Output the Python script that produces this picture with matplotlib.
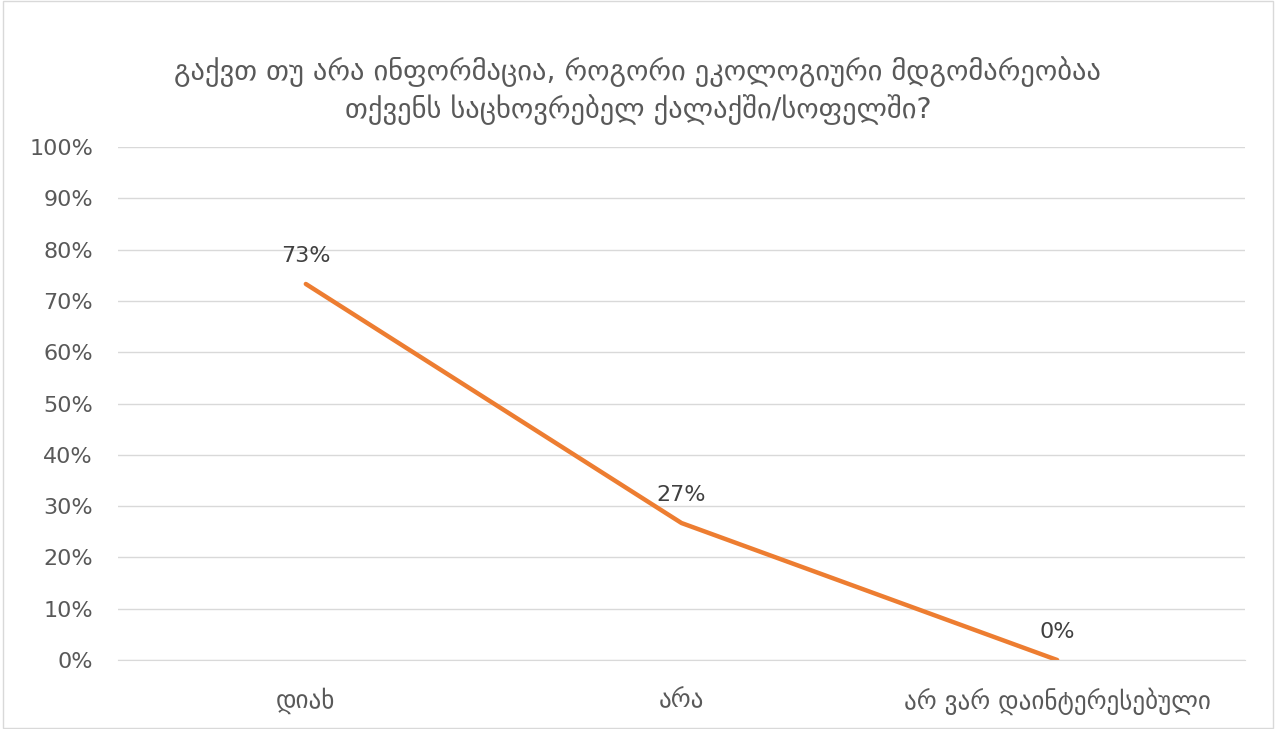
import matplotlib.pyplot as plt
from matplotlib.ticker import PercentFormatter
from matplotlib.patches import Rectangle

plt.rcParams['font.family'] = ['DejaVu Sans']

title = 'გაქვთ თუ არა ინფორმაცია, როგორი ეკოლოგიური მდგომარეობაა\nთქვენს საცხოვრებელ ქალაქში/სოფელში?'
categories = ['დიახ', 'არა', 'არ ვარ დაინტერესებული']
values = [0.733, 0.267, 0.0]
labels = ['73%', '27%', '0%']

fig = plt.figure(figsize=(12.76, 7.29), dpi=100)
ax = fig.add_axes([118 / 1276, 1 - 660 / 729, (1245 - 118) / 1276, (660 - 147) / 729])

x = list(range(len(categories)))
ax.plot(x, values, color='#ED7D31', linewidth=3.2, solid_capstyle='round')
for xi, v, lab in zip(x, values, labels):
    ax.annotate(lab, (xi, v), xytext=(0, 13), textcoords='offset points',
                ha='center', va='bottom', fontsize=16, color='#404040')

ax.set_xlim(-0.5, len(categories) - 0.5)
ax.set_ylim(0, 1)
ax.set_yticks([i / 10 for i in range(11)])
ax.yaxis.set_major_formatter(PercentFormatter(1.0, decimals=0))
ax.set_xticks(x)
ax.set_xticklabels(categories, fontsize=18)
ax.tick_params(axis='both', length=0, labelcolor='#595959')
ax.tick_params(axis='y', labelsize=16, pad=18)
ax.tick_params(axis='x', pad=20)
ax.grid(axis='y', color='#d9d9d9', linewidth=1)
ax.set_axisbelow(True)
for s in ['top', 'right', 'left']:
    ax.spines[s].set_visible(False)
ax.spines['bottom'].set_color('#d9d9d9')

fig.text(0.5, 1 - 91 / 729, title, ha='center', va='center', fontsize=20.5,
         color='#595959', linespacing=1.3)

fig.patches.append(Rectangle((0.002, 0.002), 0.996, 0.996, transform=fig.transFigure,
                             fill=False, edgecolor='#d9d9d9', linewidth=1))

fig.savefig('out.png', dpi=100)
